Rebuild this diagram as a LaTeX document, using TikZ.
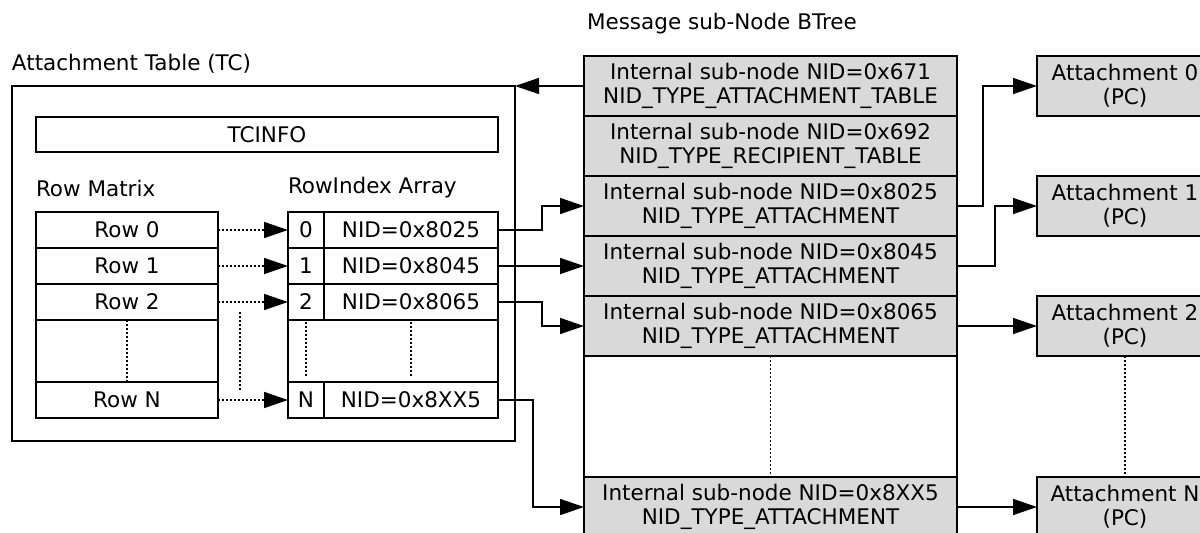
\documentclass[tikz,border=0pt]{standalone}
\usepackage{fontspec}
\setmainfont{DejaVu Sans}
\usetikzlibrary{arrows.meta}
\definecolor{boxgray}{HTML}{D9D9D9}
\begin{document}
\begin{tikzpicture}[x=1pt,y=-1pt,
  every node/.style={inner sep=0pt, outer sep=0pt, font=\fontsize{21.5}{24}\selectfont},
  cell/.style={draw, line width=1.5pt, rectangle, align=center},
  graycell/.style={cell, fill=boxgray},
  conn/.style={line width=1.5pt, -{Triangle[length=24pt,width=16pt]}},
  dotconn/.style={line width=1.5pt, dash pattern=on 2pt off 2pt, -{Triangle[length=24pt,width=16pt]}},
  dotline/.style={line width=1.5pt, dash pattern=on 2pt off 2pt}
]
\path[use as bounding box] (0,0) rectangle (1200,533);
\clip (0,0) rectangle (1200,533);

% Titles
\node[anchor=west] (tctitle) at (12,64) {Attachment Table (TC)};
\node[anchor=west] (bttitle) at (587,24) {Message sub-Node BTree};

% Attachment table container
\node[cell, minimum width=503pt, minimum height=355pt] (tc) at (263.5,263.5) {};
\node[cell, minimum width=462pt, minimum height=35pt] (tcinfo) at (267,134.5) {TCINFO};
\node[anchor=west] (rmlabel) at (36,188) {Row Matrix};
\node[anchor=west] (rilabel) at (288,188) {RowIndex Array};

% Row matrix
\node[cell, minimum width=182pt, minimum height=36pt] (r0) at (127,230) {Row 0};
\node[cell, minimum width=182pt, minimum height=36pt] (r1) at (127,266) {Row 1};
\node[cell, minimum width=182pt, minimum height=36pt] (r2) at (127,302) {Row 2};
\node[cell, minimum width=182pt, minimum height=62pt] (rg) at (127,351) {};
\node[cell, minimum width=182pt, minimum height=36pt] (rN) at (127,400) {Row N};
\draw[dotline] (rg.north) -- (rg.south);

% RowIndex array
\node[cell, minimum width=36pt, minimum height=36pt] (s0) at (306,230) {0};
\node[cell, minimum width=174pt, minimum height=36pt] (i0) at (411,230) {NID=0x8025};
\node[cell, minimum width=36pt, minimum height=36pt] (s1) at (306,266) {1};
\node[cell, minimum width=174pt, minimum height=36pt] (i1) at (411,266) {NID=0x8045};
\node[cell, minimum width=36pt, minimum height=36pt] (s2) at (306,302) {2};
\node[cell, minimum width=174pt, minimum height=36pt] (i2) at (411,302) {NID=0x8065};
\node[cell, minimum width=210pt, minimum height=62pt] (ig) at (393,351) {};
\node[cell, minimum width=36pt, minimum height=36pt] (sN) at (306,400) {N};
\node[cell, minimum width=174pt, minimum height=36pt] (iN) at (411,400) {NID=0x8XX5};
\draw[dotline] (306,322) -- (306,377);
\draw[dotline] (411,322) -- (411,377);

% Row -> RowIndex
\draw[dotconn] (r0.east) -- (s0.west);
\draw[dotconn] (r1.east) -- (s1.west);
\draw[dotconn] (r2.east) -- (s2.west);
\draw[dotconn] (rN.east) -- (sN.west);
\draw[dotline] (240,312) -- (240,392);

% BTree
\node[graycell, minimum width=373pt, minimum height=60pt] (bt0) at (770.5,86) {Internal sub-node NID=0x671\\NID\_TYPE\_ATTACHMENT\_TABLE};
\node[graycell, minimum width=373pt, minimum height=60pt] (bt1) at (770.5,146) {Internal sub-node NID=0x692\\NID\_TYPE\_RECIPIENT\_TABLE};
\node[graycell, minimum width=373pt, minimum height=60pt] (bt2) at (770.5,206) {Internal sub-node NID=0x8025\\NID\_TYPE\_ATTACHMENT};
\node[graycell, minimum width=373pt, minimum height=60pt] (bt3) at (770.5,266) {Internal sub-node NID=0x8045\\NID\_TYPE\_ATTACHMENT};
\node[graycell, minimum width=373pt, minimum height=60pt] (bt4) at (770.5,326) {Internal sub-node NID=0x8065\\NID\_TYPE\_ATTACHMENT};
\node[cell, minimum width=373pt, minimum height=121pt] (btg) at (770.5,416.5) {};
\node[graycell, minimum width=373pt, minimum height=60pt] (btN) at (770.5,507) {Internal sub-node NID=0x8XX5\\NID\_TYPE\_ATTACHMENT};
\draw[dotline] (btg.north) -- (btg.south);

% Attachments
\node[graycell, minimum width=176pt, minimum height=60pt] (a0) at (1125,86) {Attachment 0\\(PC)};
\node[graycell, minimum width=176pt, minimum height=60pt] (a1) at (1125,206) {Attachment 1\\(PC)};
\node[graycell, minimum width=176pt, minimum height=60pt] (a2) at (1125,326) {Attachment 2\\(PC)};
\node[graycell, minimum width=176pt, minimum height=60pt] (aN) at (1125,507) {Attachment N\\(PC)};
\draw[dotline] (a2.south) -- (aN.north);

% Connectors left
\draw[conn] (bt0.west) -- (bt0.west -| tc.east);
\draw[conn] (i0.east) -- ++(44,0) |- (bt2.west);
\draw[conn] (i1.east) -- (bt3.west);
\draw[conn] (i2.east) -- ++(44,0) |- (bt4.west);
\draw[conn] (iN.east) -- ++(35,0) |- (btN.west);

% Connectors right
\draw[conn] (bt2.east) -- ++(26,0) |- (a0.west);
\draw[conn] (bt3.east) -- ++(38,0) |- (a1.west);
\draw[conn] (bt4.east) -- (a2.west);
\draw[conn] (btN.east) -- (aN.west);
\end{tikzpicture}
\end{document}
